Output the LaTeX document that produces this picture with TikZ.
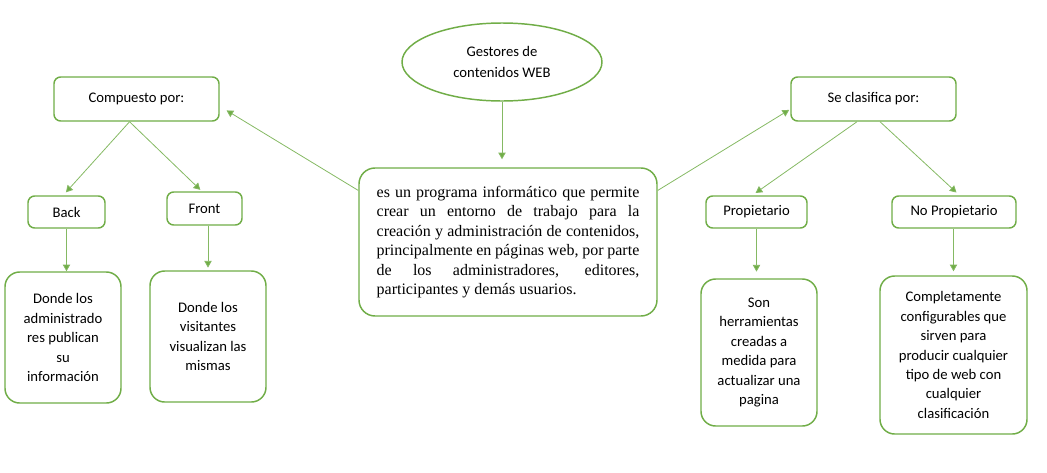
\documentclass[tikz,border=0pt]{standalone}
\usepackage{fontspec}
\setmainfont{Liberation Serif}
\newfontfamily\calibri{Carlito}
\usetikzlibrary{arrows.meta, positioning, shapes.geometric}
\definecolor{leafgreen}{HTML}{70AD47}

\begin{document}
\begin{tikzpicture}[
  x=0.75pt, y=-0.75pt,
  size/.style 2 args={minimum width=#1*0.75pt, minimum height=#2*0.75pt},
  box/.style={draw=leafgreen, line width=1.1pt, rounded corners=5pt, fill=white, align=center, inner sep=0pt,
    font=\calibri\fontsize{11}{14.6}\selectfont},
  textbox/.style={box, rounded corners=11pt},
  arrow/.style={draw=leafgreen!85, line width=0.6pt, -{Triangle[length=5pt, width=5.5pt, fill=leafgreen]}}
]
\useasboundingbox (0,0) rectangle (1047,472);

\node[box, ellipse, size={200}{78}, font=\calibri\fontsize{11}{15.5}\selectfont] (title) at (502,62) {Gestores de\\contenidos WEB};
\node[box, rounded corners=12pt, size={298}{148}, text width=197pt, align=justify,
  font=\fontsize{12}{14.6}\selectfont] (desc) at (508,242)
  {\hyphenpenalty=10000\relax es un programa informático que permite\linebreak crear un entorno de trabajo para la\linebreak
   creación y administración de contenidos,\linebreak principalmente en páginas web, por parte\linebreak
   de los administradores, editores,\linebreak participantes y demás usuarios.};

\node[box, size={165}{44}] (comp) at (136.5,99) {Compuesto por:};
\node[box, size={77}{32}] (back) at (66.5,212) {Back};
\node[box, size={75}{33}] (front) at (204.5,208.5) {Front};
\node[textbox, size={116}{131}] (backtxt) at (63,337.5) {Donde los\\administrado\\res publican\\su\\información};
\node[textbox, size={116}{131}] (fronttxt) at (208,336.5) {Donde los\\visitantes\\visualizan las\\mismas};

\node[box, size={165}{44}] (clas) at (873.5,99) {Se clasifica por:};
\node[box, size={101}{32}] (prop) at (756.5,212) {Propietario};
\node[box, size={124}{32}] (noprop) at (954,212) {No Propietario};
\node[textbox, size={116}{147}] (sontxt) at (759,352.5) {Son\\herramientas\\creadas a\\medida para\\actualizar una\\pagina};
\node[textbox, size={147}{158}] (comptxt) at (953.5,355) {Completamente\\configurables que\\sirven para\\producir cualquier\\tipo de web con\\cualquier\\clasificación};

\draw[arrow, shorten >=6pt] (title.south) -- (title.south |- desc.north);
\draw[arrow, shorten >=6pt] (desc.161) -- (comp.-5);
\draw[arrow, shorten >=3pt] (comp.253.5) -- (back.101);
\draw[arrow, shorten >=1.5pt] (comp.253.5) -- (front.99);
\draw[arrow] (back.south) -- (back.south |- backtxt.north);
\draw[arrow, shorten >=2pt] (fronttxt.north |- front.south) -- (fronttxt.north);

\draw[arrow, shorten >=1pt] (desc.19.2) -- (clas.187);
\draw[arrow, shorten >=3pt] (clas.234.8) -- (prop.104);
\draw[arrow, shorten >=3pt] (clas.286.5) -- (noprop.72.6);
\draw[arrow, shorten >=5pt] (prop.south) -- (prop.south |- sontxt.north);
\draw[arrow, shorten >=3pt] (comptxt.north |- noprop.south) -- (comptxt.north);
\end{tikzpicture}
\end{document}
